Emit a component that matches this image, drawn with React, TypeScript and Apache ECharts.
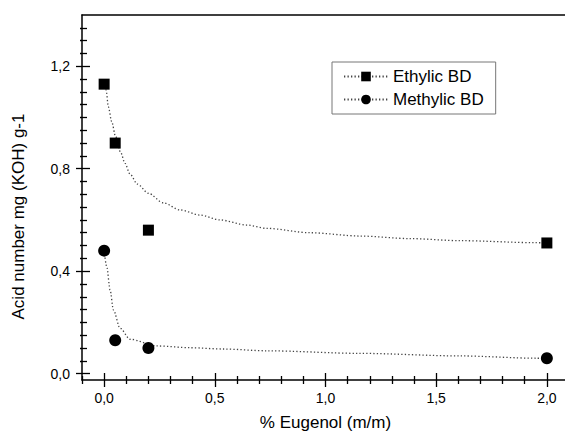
import React, { useEffect, useRef } from "react";
import * as echarts from "echarts";

const ethylX = [0, 0.05, 0.2, 2.0];
const ethylY = [1.13, 0.9, 0.56, 0.51];
const methylX = [0, 0.05, 0.2, 2.0];
const methylY = [0.48, 0.13, 0.1, 0.06];

const ethylFitX = [0, 0.009, 0.019, 0.034, 0.052, 0.075, 0.094, 0.117, 0.15, 0.2, 0.267, 0.343, 0.433, 0.523, 0.644, 0.734, 0.93, 1.156, 1.382, 1.608, 1.954, 2.0];
const ethylFitY = [1.15, 1.107, 1.042, 0.984, 0.925, 0.863, 0.821, 0.779, 0.74, 0.704, 0.667, 0.639, 0.619, 0.6, 0.58, 0.567, 0.55, 0.537, 0.527, 0.519, 0.511, 0.51];
const methylFitX = [0, 0.012, 0.027, 0.042, 0.072, 0.117, 0.238, 0.388, 0.538, 0.734, 1.156, 1.608, 1.954, 2.0];
const methylFitY = [0.48, 0.417, 0.326, 0.248, 0.177, 0.134, 0.108, 0.101, 0.096, 0.089, 0.079, 0.069, 0.06, 0.059];

const xMajor = [0, 0.5, 1.0, 1.5, 2.0];
const xMinor = [-0.1, 0.1, 0.2, 0.3, 0.4, 0.6, 0.7, 0.8, 0.9, 1.1, 1.2, 1.3, 1.4, 1.6, 1.7, 1.8, 1.9];
const yMajor = [0, 0.4, 0.8, 1.2];
const yMinor = [0.05, 0.1, 0.15, 0.2, 0.25, 0.3, 0.35, 0.45, 0.5, 0.55, 0.6, 0.65, 0.7, 0.75, 0.85, 0.9, 0.95, 1.0, 1.05, 1.1, 1.15, 1.25, 1.3, 1.35];

const FONT = "'Liberation Sans', Arial, sans-serif";
const fmt = (v: number) => v.toFixed(1).replace(".", ",");
const zip = (xs: number[], ys: number[]) => xs.map((x, i) => [x, ys[i]]);

export default function App() {
  const ref = useRef<HTMLDivElement>(null);
  useEffect(() => {
    if (!ref.current) return;
    const chart = echarts.init(ref.current, null, { renderer: "svg" });
    const X_MIN = -0.1, X_MAX = 2.1, Y_MIN = -0.025, Y_MAX = 1.4;
    const axisLine = { show: true, onZero: false, lineStyle: { color: "#000", width: 1.5 } };
    const noLine = { show: false, onZero: false };
    const tickAxisX = (vals: number[], inside: boolean, len: number, extra: any = {}) => ({
      type: "value", position: "bottom", min: X_MIN, max: X_MAX,
      axisLine: noLine, splitLine: { show: false },
      axisLabel: { show: false },
      axisTick: { show: true, inside, length: len, customValues: vals, lineStyle: { color: "#000", width: 1.3 } },
      ...extra,
    });
    const tickAxisY = (vals: number[], inside: boolean, len: number, extra: any = {}) => ({
      type: "value", position: "left", min: Y_MIN, max: Y_MAX,
      axisLine: noLine, splitLine: { show: false },
      axisLabel: { show: false },
      axisTick: { show: true, inside, length: len, customValues: vals, lineStyle: { color: "#000", width: 1.3 } },
      ...extra,
    });
    const lineStyle = { color: "#444", width: 1.3, type: [1.3, 2.2] as any };
    chart.setOption({
      animation: false,
      backgroundColor: "#fff",
      textStyle: { fontFamily: FONT },
      grid: { left: 82, right: 0, top: 15, bottom: 52, containLabel: false, outerBoundsMode: "none" },
      legend: {
        orient: "vertical", left: 332, top: 62,
        data: ["Ethylic BD", "Methylic BD"],
        borderColor: "#777", borderWidth: 1,
        padding: [6, 12, 6, 11],
        itemWidth: 44, itemHeight: 12, itemGap: 6,
        textStyle: { fontSize: 17, color: "#000", fontFamily: FONT },
      },
      xAxis: [
        tickAxisX(xMajor, true, 7, {
          axisLine,
          axisLabel: { show: true, customValues: xMajor, formatter: fmt, fontSize: 14, color: "#000", margin: 11, fontFamily: FONT },
          name: "% Eugenol (m/m)", nameLocation: "middle", nameGap: 34,
          nameTextStyle: { fontSize: 17, color: "#000", fontFamily: FONT },
        }),
        tickAxisX(xMajor, false, 7),
        tickAxisX(xMinor, true, 4),
        tickAxisX(xMinor, false, 4),
        { type: "value", position: "top", min: X_MIN, max: X_MAX, axisLine, axisTick: { show: false }, axisLabel: { show: false }, splitLine: { show: false } },
      ],
      yAxis: [
        tickAxisY(yMajor, true, 8, {
          axisLine,
          axisLabel: { show: true, customValues: yMajor, formatter: fmt, fontSize: 14, color: "#000", margin: 12, fontFamily: FONT },
          name: "Acid number mg (KOH) g-1", nameLocation: "middle", nameGap: 55, nameRotate: 90,
          nameTextStyle: { fontSize: 17, color: "#000", fontFamily: FONT, padding: [0, 38, 0, 0] },
        }),
        tickAxisY(yMajor, false, 6),
        tickAxisY(yMinor, true, 5),
        tickAxisY(yMinor, false, 2),
      ],
      series: [
        {
          name: "Ethylic BD", type: "line", data: zip(ethylFitX, ethylFitY),
          symbol: "rect", showSymbol: false, smooth: 0.3, smoothMonotone: "x",
          lineStyle, itemStyle: { color: "#000" }, z: 2,
        },
        {
          name: "Methylic BD", type: "line", data: zip(methylFitX, methylFitY),
          symbol: "circle", showSymbol: false, smooth: 0.3, smoothMonotone: "x",
          lineStyle, itemStyle: { color: "#000" }, z: 2,
        },
        {
          name: "Ethylic BD data", type: "scatter", data: zip(ethylX, ethylY),
          symbol: "rect", symbolSize: 11, itemStyle: { color: "#000", opacity: 1 }, z: 3,
        },
        {
          name: "Methylic BD data", type: "scatter", data: zip(methylX, methylY),
          symbol: "circle", symbolSize: 12, itemStyle: { color: "#000", opacity: 1 }, z: 3,
        },
      ],
    });
    return () => chart.dispose();
  }, []);
  return <div ref={ref} style={{ position: "fixed", left: 0, top: 0, width: 569, height: 432 }} />;
}
